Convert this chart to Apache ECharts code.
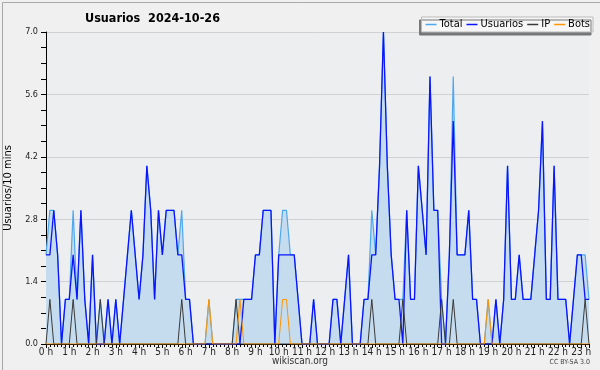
<!DOCTYPE html>
<html>
<head>
<meta charset="utf-8">
<script src="https://cdn.jsdelivr.net/npm/echarts@6/dist/echarts.min.js"></script>
<style>
  html, body { margin: 0; padding: 0; background: #f0f0f0; }
  #main { width: 600px; height: 370px; }
</style>
</head>
<body>
<div id="main"></div>
<script>
// one value every 10 minutes, 00:00 .. 23:20
const usuarios = [
  2,2,3,2,0,1,1,2,1,3,1,0,
  2,0,0,0,1,0,1,0,1,2,3,2,
  1,2,4,3,1,3,2,3,3,3,2,2,
  1,1,0,0,0,0,0,0,0,0,0,0,
  0,0,0,1,1,1,2,2,3,3,3,0,
  2,2,2,2,2,1,0,0,0,1,0,0,
  0,0,1,1,0,1,2,0,0,0,1,1,
  2,2,4,7,4,2,1,1,0,3,1,1,
  4,3,2,6,3,3,0,0,2,5,2,2,
  2,3,1,1,0,0,0,0,1,0,1,4,
  1,1,2,1,1,1,2,3,5,1,1,4,
  1,1,1,0,1,2,2,1,1
];
const total = [
  2,3,3,2,0,1,1,3,1,3,1,0,
  2,0,1,0,1,0,1,0,1,2,3,2,
  1,2,4,3,1,3,2,3,3,3,2,3,
  1,1,0,0,0,0,1,0,0,0,0,0,
  0,1,1,1,1,1,2,2,3,3,3,0,
  2,3,3,2,2,1,0,0,0,1,0,0,
  0,0,1,1,0,1,2,0,0,0,1,1,
  3,2,4,7,4,2,1,1,1,3,1,1,
  4,3,2,6,3,3,1,0,2,6,2,2,
  2,3,1,1,0,0,1,0,1,0,1,4,
  1,1,2,1,1,1,2,3,5,1,1,4,
  1,1,1,0,1,2,2,2,1
];
const ip = [
  0,1,0,0,0,0,0,1,0,0,0,0,
  0,0,1,0,0,0,0,0,0,0,0,0,
  0,0,0,0,0,0,0,0,0,0,0,1,
  0,0,0,0,0,0,0,0,0,0,0,0,
  0,1,0,0,0,0,0,0,0,0,0,0,
  0,0,0,0,0,0,0,0,0,0,0,0,
  0,0,0,0,0,0,0,0,0,0,0,0,
  1,0,0,0,0,0,0,0,1,0,0,0,
  0,0,0,0,0,0,1,0,0,1,0,0,
  0,0,0,0,0,0,0,0,0,0,0,0,
  0,0,0,0,0,0,0,0,0,0,0,0,
  0,0,0,0,0,0,0,1,0
];
const bots = [
  0,0,0,0,0,0,0,0,0,0,0,0,
  0,0,0,0,0,0,0,0,0,0,0,0,
  0,0,0,0,0,0,0,0,0,0,0,0,
  0,0,0,0,0,0,1,0,0,0,0,0,
  0,0,1,0,0,0,0,0,0,0,0,0,
  0,1,1,0,0,0,0,0,0,0,0,0,
  0,0,0,0,0,0,0,0,0,0,0,0,
  0,0,0,0,0,0,0,0,0,0,0,0,
  0,0,0,0,0,0,0,0,0,0,0,0,
  0,0,0,0,0,0,1,0,0,0,0,0,
  0,0,0,0,0,0,0,0,0,0,0,0,
  0,0,0,0,0,0,0,0,0
];
const seriesNames = ['Total', 'Usuarios', 'IP', 'Bots'];
const yTicks = [0, 1.4, 2.8, 4.2, 5.6, 7.0];

const FONT = 'DejaVu Sans Condensed, DejaVu Sans, sans-serif';
const pts = arr => arr.map((v, i) => [i, v]);

const chart = echarts.init(document.getElementById('main'));
chart.setOption({
  backgroundColor: '#f0f0f0',
  animation: false,
  title: {
    text: 'Usuarios  2024-10-26',
    left: 85, top: 12, padding: 0,
    textStyle: { fontFamily: FONT, fontSize: 12.5, fontWeight: 'bold', color: '#000' }
  },
  legend: {
    data: seriesNames,
    right: 7, top: 17,
    padding: [2, 3, 2, 4],
    itemGap: 4,
    itemWidth: 11, itemHeight: 1.5,
    icon: 'rect',
    backgroundColor: '#f6f6f6',
    borderColor: '#bbb', borderWidth: 1,
    shadowColor: '#777', shadowOffsetX: -2, shadowOffsetY: 3, shadowBlur: 0,
    textStyle: { fontFamily: FONT, fontSize: 11, color: '#000', padding: [0, 0, 0, -2] }
  },
  grid: {
    left: 46, right: 11, top: 32, bottom: 26,
    outerBoundsMode: 'none', containLabel: false,
    show: true, backgroundColor: '#eceef0', borderWidth: 0
  },
  xAxis: {
    type: 'value', min: 0, max: total.length - 1, interval: 6,
    axisLine: { show: true, lineStyle: { color: '#000', width: 1 } },
    axisTick: { show: true, length: 4, lineStyle: { color: '#000' } },
    minorTick: { show: true, splitNumber: 6, length: 3, lineStyle: { color: '#000' } },
    splitLine: { show: false },
    axisLabel: {
      fontFamily: FONT, fontSize: 10, color: '#222', margin: 3,
      formatter: v => (v % 6 === 0 ? (v / 6) + ' h' : '')
    }
  },
  yAxis: {
    type: 'value', min: yTicks[0], max: yTicks[yTicks.length - 1], interval: 1.4,
    name: 'Usuarios/10 mins', nameLocation: 'middle', nameGap: 32, nameRotate: 90,
    nameTextStyle: { fontFamily: FONT, fontSize: 11, color: '#000' },
    axisLine: { show: true, lineStyle: { color: '#000', width: 1 } },
    axisTick: { show: true, length: 5, lineStyle: { color: '#000' } },
    minorTick: { show: true, splitNumber: 4, length: 5, lineStyle: { color: '#000' } },
    splitLine: { show: true, lineStyle: { color: '#cfd1d3', width: 1 } },
    axisLabel: { fontFamily: FONT, fontSize: 9, color: '#222', margin: 8, formatter: v => v.toFixed(1) }
  },
  series: [
    {
      name: 'Total', type: 'line', data: pts(total), showSymbol: false,
      lineStyle: { color: '#4ea8ee', width: 1.2 }, itemStyle: { color: '#4ea8ee' },
      areaStyle: { color: '#c5dcef', opacity: 1 }
    },
    {
      name: 'Usuarios', type: 'line', data: pts(usuarios), showSymbol: false,
      lineStyle: { color: '#0a14ff', width: 1.3 }, itemStyle: { color: '#0a14ff' }
    },
    {
      name: 'IP', type: 'line', data: pts(ip), showSymbol: false,
      lineStyle: { color: '#3a3a3a', width: 1 }, itemStyle: { color: '#3a3a3a' }
    },
    {
      name: 'Bots', type: 'line', data: pts(bots), showSymbol: false,
      lineStyle: { color: '#ff9500', width: 1 }, itemStyle: { color: '#ff9500' }
    }
  ],
  graphic: [
    { type: 'rect', left: 0, top: 0, shape: { width: 599, height: 369 },
      style: { fill: 'none', stroke: '#a8a8a8', lineWidth: 1 }, silent: true },
    { type: 'text', left: 'center', top: 356,
      style: { text: 'wikiscan.org', font: '10px ' + FONT, fill: '#333' } },
    { type: 'text', right: 10, top: 359,
      style: { text: 'CC BY-SA 3.0', font: '7px ' + FONT, fill: '#444' } }
  ]
});
</script>
</body>
</html>
